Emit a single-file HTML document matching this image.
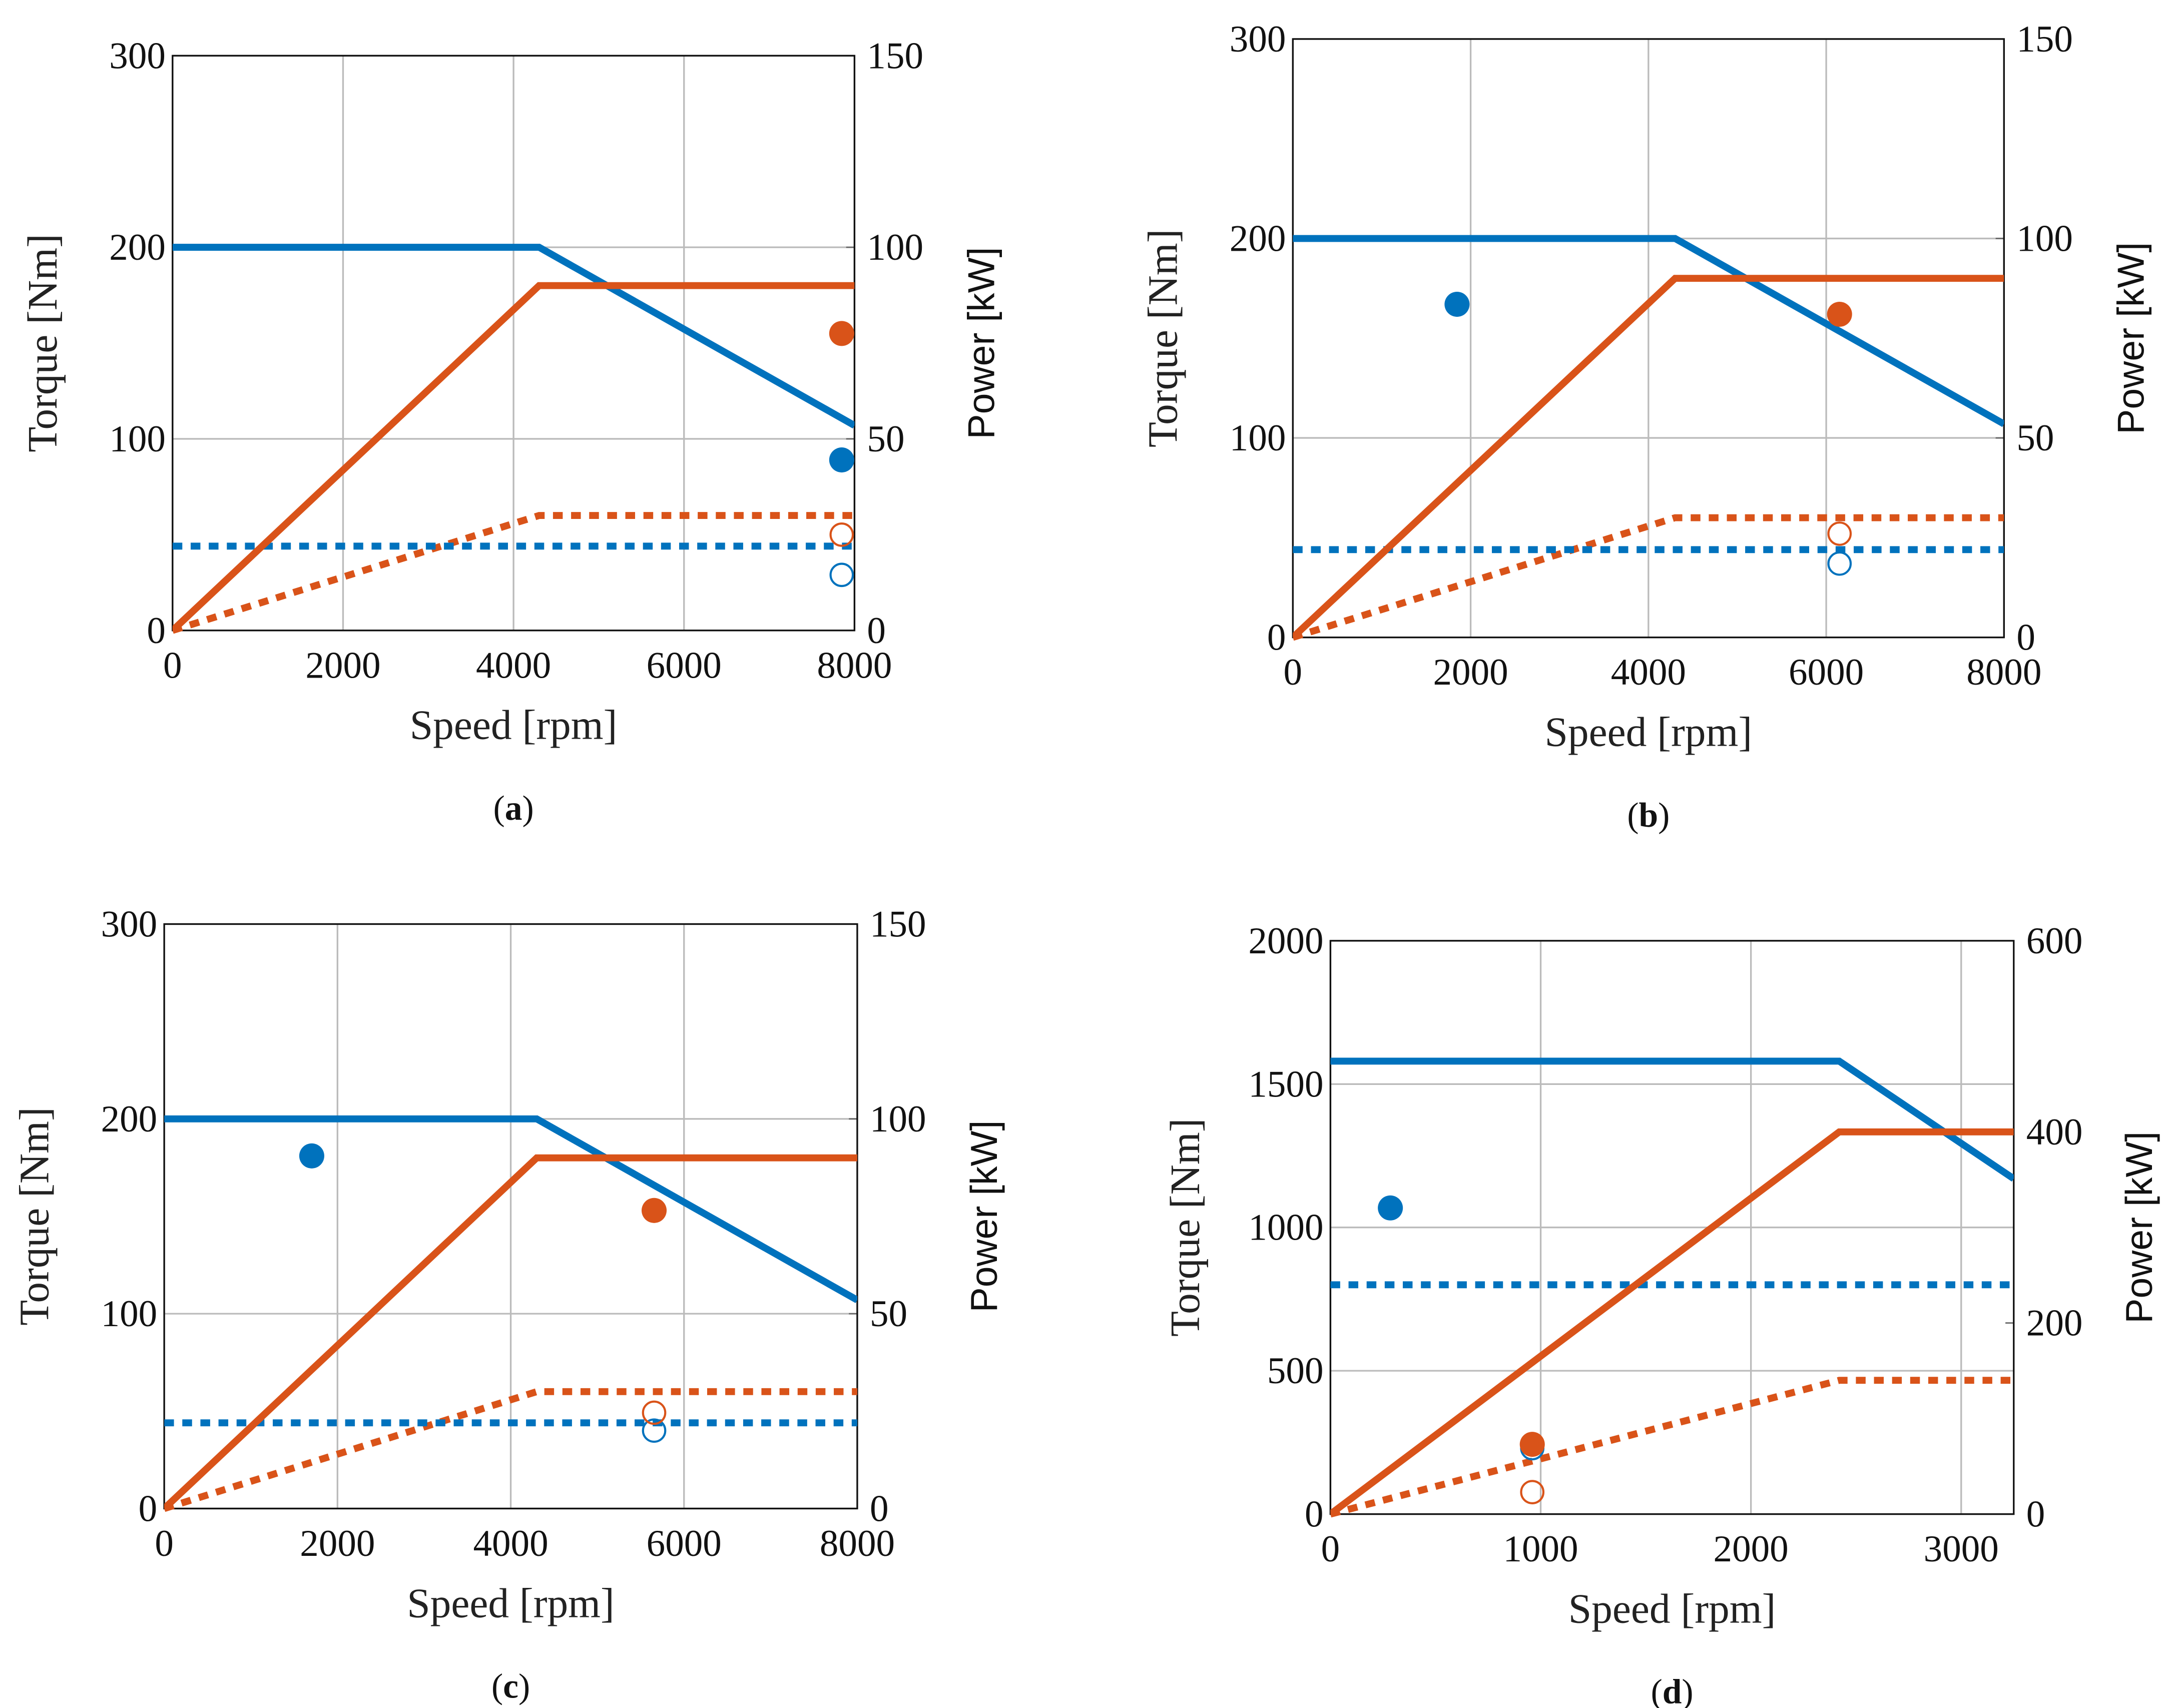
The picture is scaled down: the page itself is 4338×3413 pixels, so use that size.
<!DOCTYPE html>
<html><head><meta charset="utf-8"><style>
html,body{margin:0;padding:0;background:#fff}
svg{display:block}
.t{font-family:"Liberation Serif",serif;font-size:27px;fill:#111}
.lab{font-family:"Liberation Serif",serif;font-size:30px;fill:#222}
.sans{font-family:"Liberation Sans",sans-serif;font-size:27px;fill:#111}
.cap{font-family:"Liberation Serif",serif;font-size:25px;fill:#111}
</style></head><body>
<svg id="fig" width="4338" height="3413" viewBox="0 0 1560 1227.3" xmlns="http://www.w3.org/2000/svg"></svg>
<script>
// Panel data
const panelIds = ['a','b','c','d'];
const xMaxs = [8000, 8000, 8000, 3250];
const xTicks = [[0,2000,4000,6000,8000],[0,2000,4000,6000,8000],[0,2000,4000,6000,8000],[0,1000,2000,3000]];
const torqueMaxs = [300,300,300,2000];
const torqueTicks = [[0,100,200,300],[0,100,200,300],[0,100,200,300],[0,500,1000,1500,2000]];
const powerMaxs = [150,150,150,600];
const powerTicks = [[0,50,100,150],[0,50,100,150],[0,50,100,150],[0,200,400,600]];
// Curves: [speed, value]
const torqueCurveSpeeds = [[0,4300,8000],[0,4300,8000],[0,4300,8000],[0,2420,3250]];
const torqueCurveVals = [[200,200,107],[200,200,107],[200,200,107],[1580,1580,1170]];
const powerCurveSpeeds = [[0,4300,8000],[0,4300,8000],[0,4300,8000],[0,2420,3250]];
const powerCurveVals = [[0,90,90],[0,90,90],[0,90,90],[0,400,400]];
const contTorque = [44,44,44,800];
const contPowerSpeeds = [[0,4300,8000],[0,4300,8000],[0,4300,8000],[0,2420,3250]];
const contPowerVals = [[0,30,30],[0,30,30],[0,30,30],[0,140,140]];
// Operating points
const peakTorquePt = [[7850,89],[1847,167],[1703,181],[285,1068]];
const peakPowerPt = [[7850,77.5],[6150,81],[5655,76.5],[960,73]];
const contTorquePt = [[7850,29],[6150,37],[5655,40],[960,230]];
const contPowerPt = [[7850,25],[6150,26],[5655,24.6],[960,23]];
// layout (display units)
const boxes = [{x0:124,x1:614,y0:40,y1:453},{x0:929,x1:1440,y0:28,y1:458},{x0:118,x1:616,y0:664,y1:1084},{x0:956,x1:1447,y0:676,y1:1088}];
const BLUE='#0072BD', ORANGE='#D95319';
const NS='http://www.w3.org/2000/svg';
const svg=document.getElementById('fig');
function mk(tag,attrs,parent){const e=document.createElementNS(NS,tag);for(const k in attrs)e.setAttribute(k,attrs[k]);(parent||svg).appendChild(e);return e;}
panelIds.forEach((id,i)=>{
  const b=boxes[i];
  const g=mk('g',{});
  
  
  const sx=v=>b.x0+(v/xMaxs[i])*(b.x1-b.x0);
  const sT=v=>b.y1-(v/torqueMaxs[i])*(b.y1-b.y0);
  const sP=v=>b.y1-(v/powerMaxs[i])*(b.y1-b.y0);
  xTicks[i].forEach(v=>{const l=mk('line',{x1:sx(v),x2:sx(v),y1:b.y0,y2:b.y1,stroke:'#bbb','stroke-width':1.2},g);
    
    const t=mk('text',{x:sx(v),y:b.y1+34,'text-anchor':'middle',class:'t'},g);t.textContent=v;
    });
  torqueTicks[i].forEach(v=>{const l=mk('line',{x1:b.x0,x2:b.x1,y1:sT(v),y2:sT(v),stroke:'#bbb','stroke-width':1.2},g);
    
    const t=mk('text',{x:b.x0-5,y:sT(v)+9,'text-anchor':'end',class:'t'},g);t.textContent=v;
    });
  powerTicks[i].forEach(v=>{const l=mk('line',{x1:b.x1-6,x2:b.x1,y1:sP(v),y2:sP(v),stroke:'#666','stroke-width':1},g);
    
    const t=mk('text',{x:b.x1+9,y:sP(v)+9,'text-anchor':'start',class:'t'},g);t.textContent=v;
    });
  const fr=mk('rect',{x:b.x0,y:b.y0,width:b.x1-b.x0,height:b.y1-b.y0,fill:'none',stroke:'#111','stroke-width':1.2},g);
  
  const cp=mk('clipPath',{id:'clip'+id},g);mk('rect',{x:b.x0,y:b.y0-5,width:b.x1-b.x0,height:b.y1-b.y0+10},cp);
  const lg=mk('g',{'clip-path':'url(#clip'+id+')'},g);
  const path=(xs,ys,f)=>xs.map((x,k)=>(k?'L':'M')+sx(x)+','+f(ys[k])).join(' ');
  let p=mk('path',{d:path(contPowerSpeeds[i],contPowerVals[i],sP),fill:'none',stroke:ORANGE,'stroke-width':5,'stroke-dasharray':'7,6'},lg);
  
  p=mk('path',{d:'M'+sx(0)+','+sT(contTorque[i])+' L'+sx(xMaxs[i])+','+sT(contTorque[i]),fill:'none',stroke:BLUE,'stroke-width':5,'stroke-dasharray':'7,6'},lg);
  
  p=mk('path',{d:path(torqueCurveSpeeds[i],torqueCurveVals[i],sT),fill:'none',stroke:BLUE,'stroke-width':5},lg);
  
  p=mk('path',{d:path(powerCurveSpeeds[i],powerCurveVals[i],sP),fill:'none',stroke:ORANGE,'stroke-width':5},lg);
  
  let c=mk('circle',{cx:sx(contTorquePt[i][0]),cy:sT(contTorquePt[i][1]),r:8,fill:'none',stroke:BLUE,'stroke-width':1.5},g);
  
  c=mk('circle',{cx:sx(contPowerPt[i][0]),cy:sP(contPowerPt[i][1]),r:8,fill:'none',stroke:ORANGE,'stroke-width':1.5},g);
  
  c=mk('circle',{cx:sx(peakTorquePt[i][0]),cy:sT(peakTorquePt[i][1]),r:9,fill:BLUE},g);
  
  c=mk('circle',{cx:sx(peakPowerPt[i][0]),cy:sP(peakPowerPt[i][1]),r:9,fill:ORANGE},g);
  
  const cx=(b.x0+b.x1)/2, cy=(b.y0+b.y1)/2;
  let t=mk('text',{x:cx,y:b.y1+78,'text-anchor':'middle',class:'lab'},g);t.textContent='Speed [rpm]';
  
  const lx=b.x0-(i==3?104:93);
  t=mk('text',{x:lx,y:cy,'text-anchor':'middle','dominant-baseline':'central',class:'lab',transform:'rotate(-90 '+lx+' '+cy+')'},g);t.textContent='Torque [Nm]';
  
  const rx=b.x1+(i==3?90:91);
  t=mk('text',{x:rx,y:cy,'text-anchor':'middle','dominant-baseline':'central',class:'sans',transform:'rotate(-90 '+rx+' '+cy+')'},g);t.textContent='Power [kW]';
  
  t=mk('text',{x:cx,y:b.y1+136,'text-anchor':'middle',class:'cap'},g);
  t.innerHTML='(<tspan font-weight="bold">'+id+'</tspan>)';
  
});
</script>
</body></html>
